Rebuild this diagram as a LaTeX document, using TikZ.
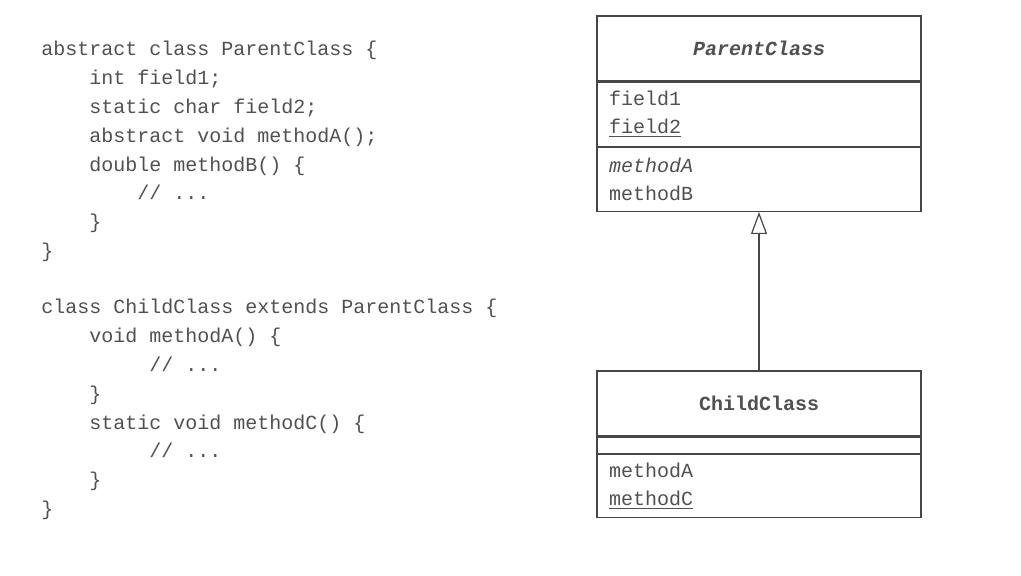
\documentclass[tikz,border=0pt]{standalone}
\usepackage{fontspec}
\setmonofont{Liberation Mono}
\usetikzlibrary{arrows.meta,positioning}
\definecolor{ink}{RGB}{80,80,80}
\definecolor{rule}{RGB}{70,70,70}
\tikzset{
  code/.style={anchor=base west,inner sep=0pt,text=ink,
    font=\fontsize{10}{14}\selectfont\ttfamily},
  classhead/.style={draw=rule,line width=0.6pt,minimum width=162pt,minimum height=#1,
    inner sep=0pt,text=ink,font=\fontsize{10}{14}\selectfont\ttfamily\bfseries},
  classpart/.style={draw=rule,line width=0.6pt,minimum height=#1,text width=150pt,
    inner xsep=6pt,inner ysep=0pt,align=left,text=ink,
    font=\fontsize{10}{14}\selectfont\ttfamily},
  inherits/.style={-{Triangle[open,length=11pt,width=8pt]},draw=rule,line width=0.6pt},
}
\begin{document}
\begin{tikzpicture}[x=0.5pt,y=-0.5pt]
  \useasboundingbox (0,0) rectangle (1021,576);
  % source code
  \foreach \n/\t [count=\i] in {0/abstract class ParentClass \{, 4/int field1;,
    4/static char field2;, 4/abstract void methodA();, 4/double methodB() \{,
    8/{// ...}, 4/\}, 0/\}}
    \node[code] (pline\i) at (41+\n*12, 56+28.8*\i-28.8) {\t};
  \foreach \n/\t [count=\i] in {0/class ChildClass extends ParentClass \{,
    4/void methodA() \{, 9/{// ...}, 4/\}, 4/static void methodC() \{,
    9/{// ...}, 4/\}, 0/\}}
    \node[code] (cline\i) at (41+\n*12, 314+28.8*\i-28.8) {\t};
  % class diagram
  \node[classhead=32.5pt] (ptitle) at (759,48.5) {\itshape ParentClass};
  \node[classpart=32pt,below=0pt of ptitle] (pfields) {field1\\\underline{field2}};
  \node[classpart=32pt,below=0pt of pfields] (pmethods) {{\itshape methodA}\\methodB};
  \node[classhead=32.5pt] (ctitle) at (759,403.5) {ChildClass};
  \node[classpart=8pt,below=0pt of ctitle] (cfields) {};
  \node[classpart=31.5pt,below=0pt of cfields] (cmethods) {methodA\\\underline{methodC}};
  \draw[inherits] (ctitle) -- (pmethods);
\end{tikzpicture}
\end{document}
